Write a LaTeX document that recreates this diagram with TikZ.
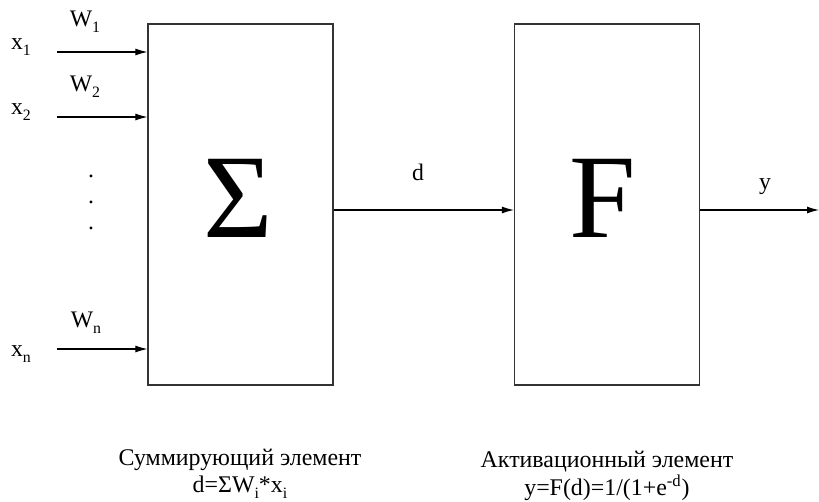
\documentclass[tikz,border=0pt]{standalone}
\usepackage{fontspec}
\setmainfont{Liberation Serif}
\usetikzlibrary{arrows.meta, positioning, calc}
\newcommand{\lowsub}[1]{\raisebox{-3.6pt}{\fontsize{9}{9}\selectfont #1}}

\begin{document}
\begin{tikzpicture}[
    x=0.02cm, y=-0.02cm,
    blockbox/.style={
        draw=black!80, line width=0.7pt,
        minimum width=3.7cm, minimum height=7.22cm, inner sep=0pt
    },
    bigsym/.style={font=\fontsize{68}{68}\selectfont, inner sep=0pt},
    arrow/.style={-{Latex[length=2.4mm, width=1.4mm]}, line width=0.6pt},
    lbl/.style={font=\fontsize{13.5}{13.5}\selectfont, inner sep=0pt},
    caption/.style={font=\fontsize{13.6}{15.5}\selectfont, align=center, inner sep=0pt}
]
\useasboundingbox (0,0) rectangle (819,501);

% blocks
\node[blockbox] (sum) at (240.5,204.5) {};
\node[blockbox] (act) at (607,204.5) {};
\node[bigsym] (sigma) at (238.5,198) {Σ};
\node[bigsym] (fsym) at (603,198) {F};

% inputs
\coordinate (in1) at (57,52);
\coordinate (in2) at (57,117);
\coordinate (inn) at (57,349);
\draw[arrow] (in1) -- (in1 -| sum.west);
\draw[arrow] (in2) -- (in2 -| sum.west);
\draw[arrow] (inn) -- (inn -| sum.west);

\node[lbl] (x1) at (21,47) {x\lowsub{1}};
\node[lbl] (x2) at (21,112) {x\lowsub{2}};
\node[lbl] (xn) at (21,354) {x\lowsub{n}};
\node[lbl] (w1) at (85,22) {W\lowsub{1}};
\node[lbl] (w2) at (85,87) {W\lowsub{2}};
\node[lbl] (wn) at (86,323) {W\lowsub{n}};

% dots
\node[lbl] (dot1) at (91,176) {.};
\node[lbl] (dot2) at (91,202) {.};
\node[lbl] (dot3) at (91,228) {.};

% connections
\draw[arrow] (sum.east |- 0,210) -- (act.west |- 0,210);
\node[lbl] (dlbl) at (418,172) {d};
\coordinate (out) at (819,210);
\draw[arrow] (act.east |- out) -- (out);
\node[lbl] (ylbl) at (765,187) {y};

% captions
\node[caption] (sumcap) at (240,474) {Суммирующий элемент\\d=ΣW\lowsub{i}*x\lowsub{i}};
\node[caption] (actcap) at (607,476) {Активационный элемент\\y=F(d)=1/(1+e\textsuperscript{-d})};

\end{tikzpicture}
\end{document}
